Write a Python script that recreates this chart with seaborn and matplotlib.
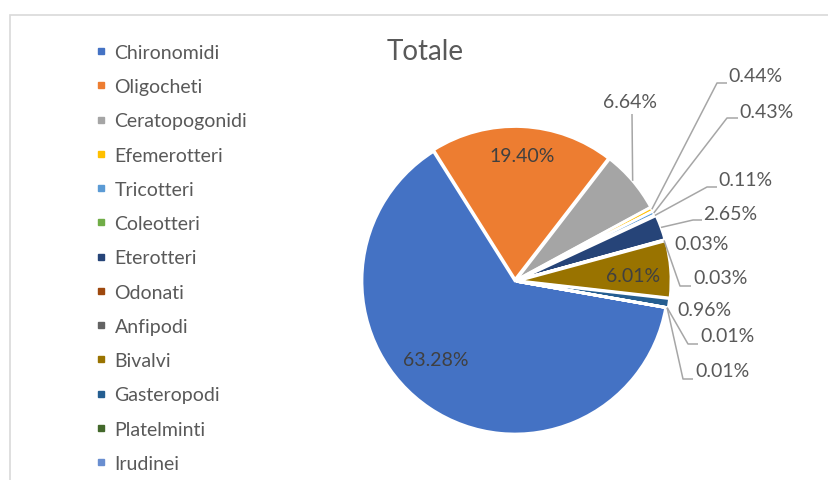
import matplotlib
matplotlib.use("Agg")
import matplotlib.pyplot as plt
from matplotlib.lines import Line2D
from matplotlib.patches import Rectangle
import numpy as np
import seaborn as sns

# Macroinvertebrate groups and their share of the total (%)
categories = ["Chironomidi", "Oligocheti", "Ceratopogonidi", "Efemerotteri",
              "Tricotteri", "Coleotteri", "Eterotteri", "Odonati", "Anfipodi",
              "Bivalvi", "Gasteropodi", "Platelminti", "Irudinei"]
shares = [63.28, 19.40, 6.64, 0.44, 0.43, 0.11, 2.65, 0.03, 0.03,
          6.01, 0.96, 0.01, 0.01]
title = "Totale"

hex_colors = ["#4472C4", "#ED7D31", "#A5A5A5", "#FFC000", "#5B9BD5", "#70AD47",
              "#264478", "#9E480E", "#636363", "#997300", "#255E91", "#43682B",
              "#698ED0"]

sns.set_theme(style="white")
plt.rcParams["font.family"] = ["Lato", "DejaVu Sans"]
palette = sns.color_palette(hex_colors)

W, H = 829, 481
fig = plt.figure(figsize=(W / 100, H / 100), dpi=100)
ax = fig.add_axes([0, 0, 1, 1])


def P(x, y):
    """Pixel position (y measured from the top) to axes data coordinates."""
    return x, H - y


# pie geometry in pixels
cx, cy = P(515, 282)
radius = 153
explode = [0, 1.5, 1.5, 1.5, 1.5, 1.5, 2.5, 1.5, 1.5, 3, 2.5, 1.5, 1.5]

wedges, _ = ax.pie(shares, colors=palette, startangle=-10, counterclock=False,
                   center=(cx, cy), radius=radius, explode=explode,
                   wedgeprops=dict(edgecolor="white", linewidth=2),
                   frame=True)

ax.set_xlim(0, W)
ax.set_ylim(0, H)
ax.set_aspect("equal")
ax.axis("off")

txt_color = "#595959"
inner_color = "#404040"
leader_color = "#A6A6A6"
lab_size = 14


def fmt(v):
    return f"{v:.2f}%"


# labels drawn inside their wedge: name -> text centre
inside = {
    "Chironomidi": (436, 361),
    "Oligocheti": (522, 156),
    "Bivalvi": (633, 276),
}
# labels outside: name -> (text x, text y, ha, leader bend points)
outside = {
    "Ceratopogonidi": (630, 102, "center", [(632, 115)]),
    "Efemerotteri": (728, 76, "left", [(717, 84), (727, 84)]),
    "Tricotteri": (739, 112, "left", [(727, 119), (738, 119)]),
    "Coleotteri": (718, 181, "left", [(707, 188), (717, 188)]),
    "Eterotteri": (703, 214, "left", [(693, 221), (702, 221)]),
    "Odonati": (674, 245, "left", []),
    "Anfipodi": (693, 278, "left", [(680, 287), (691, 287)]),
    "Gasteropodi": (677, 311, "left", []),
    "Platelminti": (700, 336, "left", [(688, 345), (698, 345)]),
    "Irudinei": (695, 372, "left", [(683, 380), (693, 380)]),
}

for name, v, w in zip(categories, shares, wedges):
    if name in inside:
        x, y = P(*inside[name])
        ax.text(x, y, fmt(v), ha="center", va="center", fontsize=lab_size,
                color=inner_color)
    else:
        tx, ty, ha, bends = outside[name]
        if bends:
            tm = np.deg2rad(0.5 * (w.theta1 + w.theta2))
            ax_, ay_ = w.center
            pts = [(ax_ + w.r * np.cos(tm), ay_ + w.r * np.sin(tm))]
            pts += [P(*b) for b in bends]
            xs, ys = zip(*pts)
            ax.plot(xs, ys, color=leader_color, lw=1.1, solid_capstyle="butt")
        x, y = P(tx, ty)
        ax.text(x, y, fmt(v), ha=ha, va="center", fontsize=lab_size,
                color=txt_color)

# title
tx, ty = P(425, 52)
ax.text(tx, ty, title, ha="center", va="center", fontsize=20, color=txt_color)

# chart frame (runs off the right and bottom edges)
ax.add_patch(Rectangle(P(10.5, 500), 900, 500 - 15.5, fill=False,
                       edgecolor="#D9D9D9", lw=1.2))

# legend
handles = [Line2D([], [], marker="s", linestyle="", markersize=4.6,
                  markerfacecolor=c, markeredgecolor=c) for c in palette]
lx, ly = P(96, 45)
ax.legend(handles, categories, loc="upper left",
          bbox_to_anchor=(lx / W, ly / H), bbox_transform=fig.transFigure,
          frameon=False, fontsize=lab_size, labelcolor=txt_color,
          handlelength=0.5, handletextpad=0.45, labelspacing=0.887,
          borderpad=0, borderaxespad=0)

fig.savefig("out.png", dpi=100, facecolor="white")
